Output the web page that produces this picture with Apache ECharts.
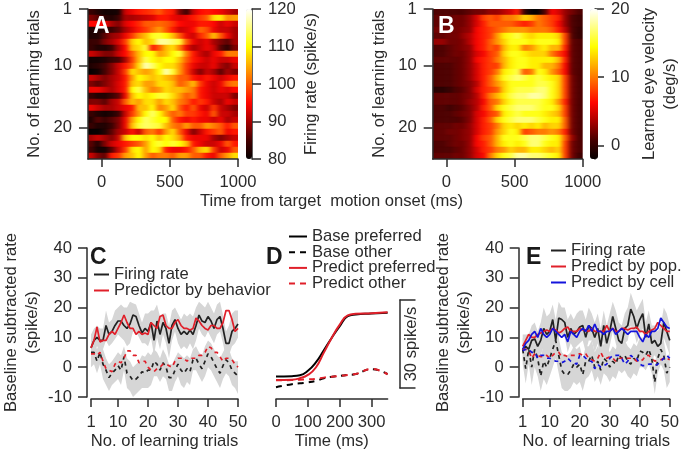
<!DOCTYPE html>
<html lang="en">

<head>
    <meta charset="UTF-8">
    <title>Learning trials</title>
    <script src="https://cdn.jsdelivr.net/npm/echarts@6/dist/echarts.min.js"></script>
    <style>
        body { margin: 0; background: #fff; }
        #main { width: 682px; height: 451px; }
    </style>
</head>

<body>
    <!-- The original heatmaps were smoothed, mostly along time -->
    <svg width="0" height="0" style="position: absolute">
        <filter id="smear" color-interpolation-filters="sRGB">
            <feGaussianBlur stdDeviation="2.6 0.7"></feGaussianBlur>
        </filter>
    </svg>
    <div id="main"></div>
    <script>
        // Heatmap values, one row per learning trial, one column per 50 ms bin
        const timeBins = [-100,-50,0,50,100,150,200,250,300,350,400,450,500,550,600,650,700,750,800,850,900,950];
        const trialRows = [1,2,3,4,5,6,7,8,9,10,11,12,13,14,15,16,17,18,19,20,21,22,23,24,25];

        const firingRate = [
            [84,82,81,81,81,92,94,96,97,98,100,97,96,88,84,92,95,96,95,94,92,90],
            [88,86,83,82,84,90,90,91,92,93,96,96,94,93,94,96,98,100,108,109,103,104],
            [95,95,94,90,88,93,95,97,100,100,101,100,98,95,94,94,96,96,95,92,94,92],
            [82,82,83,84,86,90,93,96,98,101,104,100,96,92,93,95,101,99,94,92,92,90],
            [82,82,86,89,90,94,98,103,106,111,112,110,106,100,94,92,97,100,106,100,94,90],
            [84,84,88,90,93,98,107,110,106,108,116,116,114,112,100,94,92,94,90,88,86,90],
            [84,82,82,84,90,95,106,108,112,96,100,106,108,102,94,90,92,94,92,86,83,88],
            [92,90,88,88,92,95,100,106,110,110,104,106,110,112,102,96,92,90,94,96,102,102],
            [81,81,82,84,85,90,98,106,113,110,108,110,110,106,100,96,94,92,94,92,92,94],
            [82,83,85,88,92,96,100,108,117,114,110,108,108,104,98,94,92,92,94,90,88,92],
            [80,81,85,88,92,98,108,106,104,106,110,117,112,104,98,92,88,92,90,86,90,88],
            [92,90,88,90,92,96,104,110,108,106,108,106,104,100,100,96,94,96,94,92,94,96],
            [88,86,88,90,93,96,106,108,104,104,108,108,106,100,102,106,98,94,92,94,100,102],
            [94,94,92,90,93,96,110,113,106,102,104,108,106,106,104,102,96,94,92,94,93,95],
            [84,82,82,84,86,94,106,110,108,110,112,112,108,104,100,102,96,94,92,92,92,88],
            [88,88,86,90,92,100,106,104,108,108,104,108,106,102,100,96,98,96,92,90,94,92],
            [94,92,90,90,92,94,96,106,106,110,102,104,108,100,96,100,94,92,98,92,90,88],
            [84,82,81,82,84,92,98,104,110,114,110,104,100,102,98,98,96,94,100,92,92,90],
            [82,86,84,86,88,94,104,110,114,112,110,110,100,96,94,96,94,94,92,94,90,92],
            [84,82,82,84,88,94,106,112,114,113,112,106,102,100,104,100,100,104,102,100,96,100],
            [80,80,82,86,90,92,96,92,100,102,98,104,108,100,94,88,92,96,98,100,94,96],
            [90,92,90,88,92,106,110,110,108,110,106,110,108,104,96,94,94,94,90,88,90,92],
            [86,82,88,92,94,96,98,100,104,110,112,110,112,110,106,96,94,92,92,94,100,96],
            [85,81,81,86,92,98,108,110,104,110,108,96,94,94,96,100,106,108,98,92,94,100],
            [92,88,86,96,98,104,106,110,104,100,102,102,100,104,104,100,100,96,94,100,104,108]
        ];
        const eyeVelocity = [
            [1,1,1,1,1,1.5,2,2,3,3,4,5,7,0,-2,-2,1,6,5,3,2,1],
            [1.5,1.5,1.5,2,2,3,5,8,9,8,10,10,11,13,12,10,9,8,7,3,1,0.5],
            [1.5,1.5,1.5,2,2,3,5,7,9,9,9,9,8,7,8,10,9,8,6,3,1,0.5],
            [2,2,2,2,2.5,3,6,7,8,9,10,11,11,11,10,10,10,9,7,4,1,0],
            [1.5,1.5,2,2,3,4,6,7,8,11,14,15,16,14,13,14,14,14,13,8,1,0],
            [3,3,2,2,2.5,4,6,7,9,11,13,15,15,15,14,15,15,15,14,8,1.5,1],
            [1,1,1.5,2,2.5,3,6,7,9,8,12,14,14,10,11,13,14,12,12,7,1.5,1],
            [1,1,1.5,2,2,3,5,6,8,9,13,15,15,14,13,13,13,10,8,6,1.5,1],
            [1.5,1.5,1.5,1.5,2,3,6,7,8,10,12,14,15,15,14,14,14,14,12,7,1.5,1],
            [1,1,1,1.5,2,3,5,7,8,8,12,14,15,15,14,14,12,12,10,6,1.5,1],
            [1,1,1,1.5,2,3,5,7,8,10,14,15,16,9,10,15,14,11,9,6,1.5,1],
            [1,1,1,1.5,2,3,5,7,9,12,15,16,17,16,15,16,15,14,13,8,2,1],
            [1,1,1,1.5,2,2.5,4,7,9,11,13,15,15,15,15,16,16,15,13,8,2,1],
            [-0.5,-0.5,0,1,1.5,2.5,5,7,8,9,13,15,16,16,16,17,17,15,13,8,2,1],
            [1.5,1.5,1.5,1.5,2,2.5,4,7,10,12,14,16,17,17,18,18,17,15,13,8,2,1],
            [1.5,1.5,1.5,1.5,2,3,4,6,9,10,13,15,16,16,16,16,15,14,11,7,2,1],
            [1,1,0.5,1,1.5,2.5,4,7,9,13,15,16,17,17,17,16,15,15,13,8,2,1],
            [1,1,1,1.5,2,2.5,5,6,8,9,14,15,16,15,15,15,14,13,12,8,2,1],
            [1,1,1,1,1.5,2.5,5,7,9,13,15,16,17,17,17,16,15,14,14,9,2,1],
            [1.5,1.5,1.5,2,2,3,5,7,8,10,13,14,13,14,13,14,12,13,13,9,2,1],
            [1.5,1.5,2,2,2.5,3,5,7,8,11,13,15,14,8,9,10,10,11,10,7,2,1],
            [1.5,1.5,1.5,2,2.5,3,6,8,9,12,15,15,15,16,17,17,16,15,14,9,3,1],
            [1,1,1.5,2,2,3,6,7,9,12,14,15,14,15,17,17,15,14,14,8,2,1],
            [1,1,1,1.5,2,3,5,7,8,10,11,13,12,12,14,14,13,12,13,8,2,1],
            [1.5,1.5,1.5,2,2,3,5,6,10,13,15,16,18,18,17,17,16,15,14,8,2,0.5]
        ];

        // Panel C
        const trials = Array.from({ length: 50 }, (_, i) => i + 1);
        const cBasePref = [6.5,9,10,9,9,14,11,12,14,15.5,15.5,14,13,14.5,17.5,17,14,11.5,13,12,15,9,15.5,11,15,13,8,14,16,13,11,12,11,12.5,11,14,17.5,15.5,15,17,15.5,13,16,17,13,8,8,12,13,14.5];
        const cPredPref = [6.5,9,13.5,8.5,9,9,11,12,11,13,15,17.5,15,13,13,11,12,11,11.5,11,15,14,13,17,17.5,14,13,13,15,16,14,13,13,12.5,13,16.5,15.5,14,13,12.5,14,14,13,13,15,19,19,16,12,13];
        const cBaseOther = [5,5,2,5,1,-1,-3.5,-2,-1,0.5,-1,3.5,-2,-3,-4.5,-4,-3,-1.5,-2,-1,-1,2,1,-1,1.5,0,-3.5,-3.5,-1,1,-1,-2,-0.5,-1.5,2.5,3,1,-0.5,2,4.5,3.5,1.5,-0.5,-2,0.5,2.5,1.5,-1,-2,-3];
        const cPredOther = [4.5,4.5,4,5,2,-0.5,-1,-1.5,1,2,1.5,3,5.5,5.5,4,4,1.5,2,2,0,-1,-1.5,-0.5,0,1,1,0.5,0,2,3,3,3,2,3,3,3,4,4,5,7,6.5,5,5,3.5,2,3,3,2.5,1,0];
        const cPrefUpper = [11,13,14,13,13,19,15,16,19,20,21,20,20,22,21.5,21,18,15,18,18,19,19,21,17,18,18,14,19,20,18,16,18,17,18,17,20,22,21,20,22,20,18,21,22,17.5,12,14,18,19,19];
        const cPrefLower = [2,5,7,6,6,9,7,8,9.5,11,10,9,7,8,12,12,10,8,8,7,10,4,10,6,11,8,3,9,12,8,6,7,6,8,6,9,13,11,10,12,10,8,11,12,8,3,4,7,8,10];
        const cOtherUpper = [9,9,6,9,6,3,1,2,3.5,5,4,7,3,2,0,1,2,4,3.5,5,4,6,5,3,6,4,1,1,3,5,4,3,4,3,6,7,5,4,7,9,8,6,4,3,5,7,6,3,2,2];
        const cOtherLower = [0,1,-2,1,-4,-6,-8,-6,-5,-4,-6,-1,-7,-8,-10,-9,-8,-7,-7,-7,-6,-3,-3,-5,-3,-4,-8,-8,-5,-3,-6,-7,-5,-6,-1,-1,-3,-5,-3,0,-1,-3,-5,-7,-4,-2,-3,-6,-7,-9];

        // Panel D
        const dTime = [0,50,75,100,125,150,175,200,225,250,300,350];
        const dBasePref = [-3.1,-3,-2.7,-1.2,1.6,5.7,9.9,13.8,17.1,17.7,18,18.3];
        const dPredPref = [-4.3,-4.2,-3.7,-2.6,-0.1,4.9,9.9,14.3,17.4,17.9,18.1,18.4];
        const dBaseOther = [-6.7,-5.7,-5.4,-5.1,-4.6,-3.7,-3.2,-2.9,-2.6,-2.3,-0.7,-2.3];
        const dPredOther = [-4.4,-4.3,-4.2,-4.1,-3.9,-3.5,-3.2,-2.9,-2.6,-2.3,-0.6,-2.4];

        // Panel E
        const eFiring = [6,7,6,9,9.5,7,9,13,11,12,16,9,16.5,16,15,10,13,11,12,13.5,14,10,14,13,10,13,7,14,8,12,17,13,9,8,13,14,19.5,17,13,16,18,10,14.5,8,9,7,8,15,12,9];
        const ePop = [7,9,11,10,10,11,11.5,12,12.5,12,13,12.5,11.5,12,13,13.5,12,12,12,13,12.5,12.5,12,13,12,12,12,12,14,12,13,12,12,13,13,12.5,13,13,13.5,12,12,11,12,12.5,13,15,14,13,12,12];
        const eCell = [6,8,9,11,12,10,13,11,10,11,13,12,11,10,11,8.5,12,11,10,12,13,12,14,12,14.5,12,12,11,12,12,13,11,12,13,12,11,12,12,12,10,8.5,11,10,12,12,13,16.5,15,13.5,13];
        const eFiringOther = [6,-0.5,6,0,6,3,-3,2,0,3,6,9,4,-1,-2.5,-2.5,-1,1,0,1,-2.5,2,2,4,0,2,-1,3,2,0,2,1,4,3,4,2,1,3,2,5.5,5,4,6,3,-5,3,6,4,-2,0];
        const ePopOther = [6,6,5.5,3,4.5,4,3.5,3.5,4,3,4,5,5,3.5,4,3.5,4,4,4,4.5,4,4.5,3,2.5,2,3,5,3,3,3.5,3,2,3,3,3,3,3,3,2,2,2.5,4,4,3,2,2.5,2.5,3,3,2.5];
        const eCellOther = [5.5,6,6,5,5,3,4,4,3,3,2.5,2,2,1.5,2,3,2,1.5,1,4,4,3,2,2,-0.5,1,0,0.5,1,3,4,4,4,3,1,2,4,3,3,1,0.5,0.5,1,1,0.5,1,2,3,4,3];
        const ePrefUpper = [11,11,11,14,15,12,15,20,17,18,21,16,22,20,20,16,18,16,18,19,19,16,20,18,15,18,13,19,14,18,22,19,15,14,18,20,25,22,19,21,23,15,19,14,14,12,14,20,18,14];
        const ePrefLower = [2,3,2,5,5,3,4,7,5,7,11,4,11,11,10,5,8,6,7,8,9,5,9,9,5,8,2,9,3,7,12,8,4,3,8,9,14,12,8,11,13,5,10,3,4,2,3,10,7,4];
        const eOtherUpper = [10,5,11,5,11,8,3,8,6,9,12,15,10,5,4,4,5,7,6,7,3,7,7,9,5,7,5,8,7,5,7,6,9,8,9,7,6,8,7,10,10,9,11,8,0,8,11,9,3,5];
        const eOtherLower = [1,-5.5,1,-6,0,-3,-8,-4,-6,-3,0,3,-2,-7,-8,-8,-7,-5,-6,-5,-8,-4,-3,-1,-5,-3,-6,-2,-3,-5,-3,-4,-1,-2,-1,-3,-4,-2,-3,0,0,-1,1,-2,-9,-2,1,-1,-7,-5];

        const hotColors = ['#050000', '#450000', '#a80000', '#ff0500', '#ff5a00', '#ffae00', '#ffff00', '#ffff80', '#ffffff'];
        const ink = '#2b2b2b';
        const font = 'Liberation Sans';
        const black = '#222222';
        const red = '#e0202a';
        const blue = '#1414dc';

        const text = { color: ink, fontFamily: font, fontSize: 16.6 };
        const axisLine = { show: true, onZero: false, lineStyle: { color: ink, width: 1.5 } };
        const axisTick = (length, values) => ({ show: true, length: length, lineStyle: { color: ink, width: 1.5 }, customValues: values });
        const axisLabel = (margin, values) => ({ show: true, margin: margin, ...text, customValues: values, formatter: (v) => String(v) });

        const heatData = (rows) => rows.flatMap((row, y) => row.map((v, x) => [x, y, v]));
        const hidden = { show: false };

        // Cells live on their own canvas layer so that only they get smoothed.
        // Outer cells overshoot the grid, the layer is clipped back afterwards.
        function heatCells(grid, rows) {
            const bleed = 12;
            return {
                type: 'custom', xAxisIndex: grid, yAxisIndex: grid, silent: true, zlevel: -1, data: heatData(rows), encode: { x: 0, y: 1 },
                renderItem: function (params, api) {
                    const col = api.value(0);
                    const row = api.value(1);
                    const p = api.coord([col, row]);
                    const s = api.size([1, 1]);
                    const left = col === 0 ? bleed : 0;
                    const right = col === timeBins.length - 1 ? bleed : 0;
                    const up = row === 0 ? bleed : 0;
                    const down = row === trialRows.length - 1 ? bleed : 0;
                    const color = api.visual('color');
                    return {
                        type: 'rect',
                        shape: { x: p[0] - s[0] / 2 - left, y: p[1] - s[1] / 2 - up, width: s[0] + left + right, height: s[1] + up + down },
                        style: { fill: color, stroke: color, lineWidth: 0.5 }
                    };
                }
            };
        }
        // Grey band between a lower and an upper edge
        function band(grid, lower, upper) {
            return {
                type: 'custom', xAxisIndex: grid, yAxisIndex: grid, silent: true, clip: true,
                data: trials.map((t, i) => [t, lower[i], upper[i]]), encode: { x: 0, y: [1, 2] },
                renderItem: function (params, api) {
                    if (params.dataIndex !== 0) return;
                    const top = trials.map((t, i) => api.coord([t, upper[i]]));
                    const bottom = trials.map((t, i) => api.coord([t, lower[i]])).reverse();
                    return { type: 'polygon', shape: { points: top.concat(bottom) }, style: { fill: '#d6d6d6' } };
                }
            };
        }
        function curve(grid, name, xs, ys, color, dashed, smooth) {
            return {
                type: 'line', name: name, xAxisIndex: grid, yAxisIndex: grid, symbol: 'none', smooth: !!smooth,
                itemStyle: { color: color },
                lineStyle: { color: color, width: smooth ? 2 : 1.7, type: dashed ? (smooth ? [6, 5] : [4, 4]) : 'solid' },
                data: xs.map((x, i) => [x, ys[i]])
            };
        }

        const grids = [
            { left: 88, top: 9, width: 150, height: 150 },      // 0 A cells
            { left: 88, top: 9, width: 150, height: 150 },      // 1 A axes
            { left: 246, top: 9, width: 6, height: 150 },       // 2 A colour bar
            { left: 432.7, top: 9, width: 150, height: 150 },   // 3 B cells
            { left: 432.7, top: 9, width: 150, height: 150 },   // 4 B axes
            { left: 590, top: 9, width: 8, height: 150 },       // 5 B colour bar
            { left: 88, top: 248, width: 150, height: 150 },    // 6 C
            { left: 276, top: 248, width: 111.6, height: 150 }, // 7 D
            { left: 399.5, top: 300, width: 16, height: 88 },   // 8 D scale bar
            { left: 522.7, top: 248, width: 150, height: 150 }  // 9 E
        ];

        const trialAxisX = { type: 'value', min: -100, max: 1000, axisLine: axisLine, axisTick: axisTick(8, [0, 500, 1000]), axisLabel: axisLabel(15, [0, 500, 1000]), splitLine: hidden };
        const trialAxisY = {
            type: 'value', inverse: true, min: 1, max: 25, axisLine: axisLine, axisTick: axisTick(9, [1, 10, 20]), axisLabel: axisLabel(16, [1, 10, 20]), splitLine: hidden,
            name: 'No. of learning trials', nameLocation: 'middle', nameRotate: 90, nameGap: 45, nameTextStyle: text
        };
        const barAxisY = (min, max, values, name, gap) => ({
            type: 'value', position: 'right', min: min, max: max, axisLine: axisLine, axisTick: axisTick(9, values), axisLabel: axisLabel(16, values), splitLine: hidden,
            name: name, nameLocation: 'middle', nameRotate: 90, nameGap: gap, nameTextStyle: { ...text, lineHeight: 21 }
        });
        const rateAxisY = {
            type: 'value', min: -10, max: 40, interval: 10, offset: 4, axisLine: axisLine, axisTick: { show: true, length: 9, lineStyle: { color: ink, width: 1.5 } }, axisLabel: { margin: 15, ...text }, splitLine: hidden,
            name: 'Baseline subtracted rate\n(spike/s)', nameLocation: 'middle', nameRotate: 90, nameGap: 44, nameTextStyle: { ...text, lineHeight: 21 }
        };
        const learnAxisX = {
            type: 'value', min: 1, max: 50, offset: 2, axisLine: axisLine, axisTick: axisTick(8, [1, 10, 20, 30, 40, 50]), axisLabel: axisLabel(15, [1, 10, 20, 30, 40, 50]), splitLine: hidden,
            name: 'No. of learning trials', nameLocation: 'middle', nameGap: 34, nameTextStyle: text
        };

        const xAxes = [
            { type: 'category', data: timeBins, gridIndex: 0, show: false },
            { ...trialAxisX, gridIndex: 1 },
            { type: 'value', gridIndex: 2, show: false },
            { type: 'category', data: timeBins, gridIndex: 3, show: false },
            { ...trialAxisX, gridIndex: 4 },
            { type: 'value', gridIndex: 5, show: false },
            { ...learnAxisX, gridIndex: 6 },
            {
                type: 'value', gridIndex: 7, min: 0, max: 350, offset: 2, axisLine: axisLine, axisTick: axisTick(8, [0, 100, 200, 300]), axisLabel: axisLabel(15, [0, 100, 200, 300]), splitLine: hidden,
                name: 'Time (ms)', nameLocation: 'middle', nameGap: 34, nameTextStyle: text
            },
            { type: 'value', gridIndex: 8, show: false },
            { ...learnAxisX, gridIndex: 9 }
        ];
        const yAxes = [
            { type: 'category', data: trialRows, inverse: true, gridIndex: 0, show: false },
            { ...trialAxisY, gridIndex: 1 },
            { ...barAxisY(80, 120, [80, 90, 100, 110, 120], 'Firing rate (spike/s)', 49), gridIndex: 2 },
            { type: 'category', data: trialRows, inverse: true, gridIndex: 3, show: false },
            { ...trialAxisY, gridIndex: 4 },
            { ...barAxisY(-2, 20, [0, 10, 20], 'Learned eye velocity\n(deg/s)', 44), gridIndex: 5 },
            { ...rateAxisY, gridIndex: 6 },
            { type: 'value', gridIndex: 7, min: -10, max: 40, show: false },
            {
                type: 'value', gridIndex: 8, min: 0, max: 30, interval: 30, axisLine: axisLine, axisTick: { show: true, inside: true, length: 16, lineStyle: { color: ink, width: 1.5 } }, axisLabel: hidden, splitLine: hidden,
                name: '30 spike/s', nameLocation: 'middle', nameRotate: 90, nameGap: -20, nameTextStyle: text
            },
            { ...rateAxisY, gridIndex: 9 }
        ];

        const series = [
            heatCells(0, firingRate),
            heatCells(3, eyeVelocity),

            band(6, cPrefLower, cPrefUpper),
            band(6, cOtherLower, cOtherUpper),
            curve(6, 'Firing rate', trials, cBasePref, black),
            curve(6, 'Predictor by behavior', trials, cPredPref, red),
            curve(6, 'cBaseOther', trials, cBaseOther, black, true),
            curve(6, 'cPredOther', trials, cPredOther, red, true),

            curve(7, 'Base preferred', dTime, dBasePref, '#000000', false, true),
            curve(7, 'Base other', dTime, dBaseOther, '#000000', true, true),
            curve(7, 'Predict preferred', dTime, dPredPref, red, false, true),
            curve(7, 'Predict other', dTime, dPredOther, red, true, true),

            band(9, ePrefLower, ePrefUpper),
            band(9, eOtherLower, eOtherUpper),
            curve(9, 'Firing rate', trials, eFiring, black),
            curve(9, 'Predict by pop.', trials, ePop, red),
            curve(9, 'Predict by cell', trials, eCell, blue),
            curve(9, 'eFiringOther', trials, eFiringOther, black, true),
            curve(9, 'ePopOther', trials, ePopOther, red, true),
            curve(9, 'eCellOther', trials, eCellOther, blue, true)
        ];

        const colorBar = (min, max, seriesIndex, left, width) => ({
            type: 'continuous', min: min, max: max, seriesIndex: seriesIndex, dimension: 2, left: left, top: 9, itemWidth: width, itemHeight: 150,
            padding: 0, calculable: false, hoverLink: false, text: ['', ''], textGap: 0, inRange: { color: hotColors }
        });
        const legendBox = (names, left, top, width, rowHeight, gap) => ({
            data: names, left: left, top: top, orient: 'vertical', padding: 0, itemGap: gap, itemWidth: width, itemHeight: rowHeight, selectedMode: false,
            itemStyle: { opacity: 0 }, textStyle: text
        });
        const label = (str, left, top, color, size, weight) => ({
            text: str, left: left, top: top, padding: 0, textStyle: { color: color, fontFamily: font, fontSize: size, fontWeight: weight }
        });

        const chart = echarts.init(document.getElementById('main'));
        chart.setOption({
            animation: false,
            backgroundColor: '#ffffff',
            title: [
                label('A', 93, 15, '#ffffff', 23, 'bold'),
                label('B', 438, 15, '#ffffff', 23, 'bold'),
                label('C', 90, 246, '#1a1a1a', 23, 'bold'),
                label('D', 266, 246, '#1a1a1a', 23, 'bold'),
                label('E', 526, 246, '#1a1a1a', 23, 'bold'),
                label('Time from target  motion onset (ms)', 200, 193, ink, 16.6, 'normal')
            ],
            grid: grids,
            xAxis: xAxes,
            yAxis: yAxes,
            visualMap: [colorBar(80, 120, 0, 246, 6), colorBar(-2, 20, 1, 590, 8)],
            legend: [
                legendBox(['Firing rate', 'Predictor by behavior'], 93, 266, 15, 16.5, -1),
                legendBox(['Base preferred', 'Base other', 'Predict preferred', 'Predict other'], 288, 228, 18, 16, -1.3),
                legendBox(['Firing rate', 'Predict by pop.', 'Predict by cell'], 550, 242, 15, 16.5, -1)
            ],
            series: series
        });

        // The first canvas is the cell layer: smooth it, then cut it back to the two plot areas
        const cellLayer = chart.getDom().querySelector('canvas');
        cellLayer.style.filter = 'url(#smear)';
        cellLayer.style.clipPath = "path('M88 9h150v150h-150z M432.7 9h150v150h-150z')";

        window.addEventListener('resize', function () {
            chart.resize();
        });
    </script>
</body>

</html>
